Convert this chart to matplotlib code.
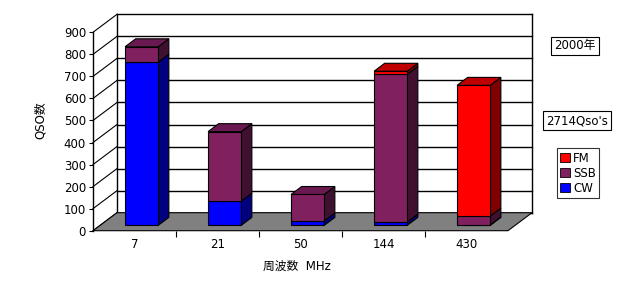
import numpy as np
import matplotlib.pyplot as plt
from matplotlib.patches import Polygon, Patch
from matplotlib.transforms import Affine2D

plt.rcParams['font.family'] = ['DejaVu Sans', 'Noto Sans CJK JP']

bands = ['7', '21', '50', '144', '430']
cw = [740, 110, 20, 15, 2]
ssb = [70, 315, 120, 670, 40]
fm = [0, 0, 0, 14, 593]

series = [('CW', cw, '#0000FF', '#0000C0', '#000080'),
          ('SSB', ssb, '#80205F', '#6A1A50', '#401030'),
          ('FM', fm, '#FF0000', '#C00000', '#800000')]

W, H = 627, 286
DX, DY = 24, 18          # depth offset of back wall, pixels
D0, D1 = 0.3, 0.74       # bar front / back depth
BW = 0.4

fig = plt.figure(figsize=(W / 100, H / 100), dpi=100)
ax = fig.add_axes([93 / W, 1 - 230.7 / H, 415 / W, 198.4 / H])
ax.set_xlim(-0.5, 4.5)
ax.set_ylim(0, 900)
ax.patch.set_visible(False)
for s in ['top', 'right', 'bottom']:
    ax.spines[s].set_visible(False)
ax.spines['left'].set_linewidth(1)


def tr(d):
    return ax.transData + Affine2D().translate(DX * d, DY * d)


def poly(pts, d, fc, z, lw=0.8):
    p = Polygon(pts, closed=True, facecolor=fc, edgecolor='black', lw=lw,
                transform=tr(d), clip_on=False, zorder=z)
    ax.add_patch(p)


def seg(x, y, d, z=1):
    ax.plot(x, y, color='black', lw=1, transform=tr(d), clip_on=False, zorder=z)


def slab(x0, x1, v, fc, z):
    # face going back in depth from D0 to D1, between data points (x0,v0) and (x1,v1)
    p1 = ax.transData.transform(x0)
    p2 = ax.transData.transform(x1)
    dd = D1 - D0
    pg = Polygon([(p1[0], p1[1]), (p2[0], p2[1]),
                  (p2[0] + DX * dd, p2[1] + DY * dd), (p1[0] + DX * dd, p1[1] + DY * dd)],
                 closed=True, facecolor=fc, edgecolor='black', lw=0.8,
                 transform=Affine2D().translate(DX * D0, DY * D0), clip_on=False, zorder=z)
    ax.add_patch(pg)


# back wall and left wall grid
yt = np.arange(0, 1000, 100)
for v in yt:
    seg([-0.5, 4.5], [v, v], 1)
    x0, y0 = ax.transData.transform((-0.5, v))
    ax.plot([x0, x0 + DX], [y0, y0 + DY], color='black', lw=0.8,
            transform=None, clip_on=False, zorder=1)
seg([-0.5, -0.5], [0, 900], 1)
seg([4.5, 4.5], [0, 900], 1)

# floor
fx0, fy0 = ax.transData.transform((-0.5, 0))
fx1, _ = ax.transData.transform((4.5, 0))
floor = Polygon([(fx0, fy0), (fx1, fy0), (fx1 + DX, fy0 + DY), (fx0 + DX, fy0 + DY)],
                closed=True, facecolor='#808080', edgecolor='black', lw=0.8,
                transform=None, clip_on=False, zorder=2)
ax.add_patch(floor)

# bars
for i in range(len(bands)):
    base = 0
    l, r = i - BW / 2, i + BW / 2
    for k, (name, vals, c_front, c_top, c_side) in enumerate(series):
        v = vals[i]
        if v <= 0:
            continue
        top = base + v
        z = 3 + k * 0.01
        slab((r, base), (r, top), v, c_side, z)
        poly([(l, base), (r, base), (r, top), (l, top)], D0, c_front, z)
        base = top
    topc = [s for s in series if s[1][i] > 0][-1]
    slab((l, base), (r, base), 0, topc[3], 3.5)

# axes ticks
ax.set_yticks(yt)
ax.tick_params(axis='y', direction='out', length=3, width=0.8, labelsize=8.5, pad=2)
ax.set_xticks(range(len(bands)))
ax.set_xticklabels(bands)
ax.set_xticks(np.arange(0.5, 4.5, 1), minor=True)
ax.tick_params(axis='x', which='major', length=0, labelsize=8.5, pad=5)
ax.tick_params(axis='x', which='minor', length=4, width=0.8, direction='out')
ax.spines['bottom'].set_visible(True)
ax.spines['bottom'].set_linewidth(0)

fig.text(40 / W, 1 - 120 / H, 'QSO数', rotation=90, ha='center', va='center', fontsize=8.5)
fig.text(297 / W, 1 - 266 / H, '周波数  MHz', ha='center', va='center', fontsize=8.5)

box = dict(boxstyle='square,pad=0.25', facecolor='white', edgecolor='black', lw=0.8)
fig.text(575 / W, 1 - 46 / H, '2000年', ha='center', va='center', fontsize=8.5, bbox=box)
fig.text(577 / W, 1 - 120.5 / H, "2714Qso's", ha='center', va='center', fontsize=8.5, bbox=box)

handles = [Patch(facecolor=s[2], edgecolor='black', lw=0.6, label=s[0]) for s in reversed(series)]
leg = fig.legend(handles=handles, loc='center', bbox_to_anchor=(578 / W, 1 - 173.3 / H),
                 fontsize=8.5, frameon=True, fancybox=False, handlelength=0.8, handleheight=0.8,
                 handletextpad=0.3, borderpad=0.3, labelspacing=0.15, borderaxespad=0)
leg.get_frame().set_edgecolor('black')
leg.get_frame().set_linewidth(0.8)

fig.savefig('out.png', dpi=100)
